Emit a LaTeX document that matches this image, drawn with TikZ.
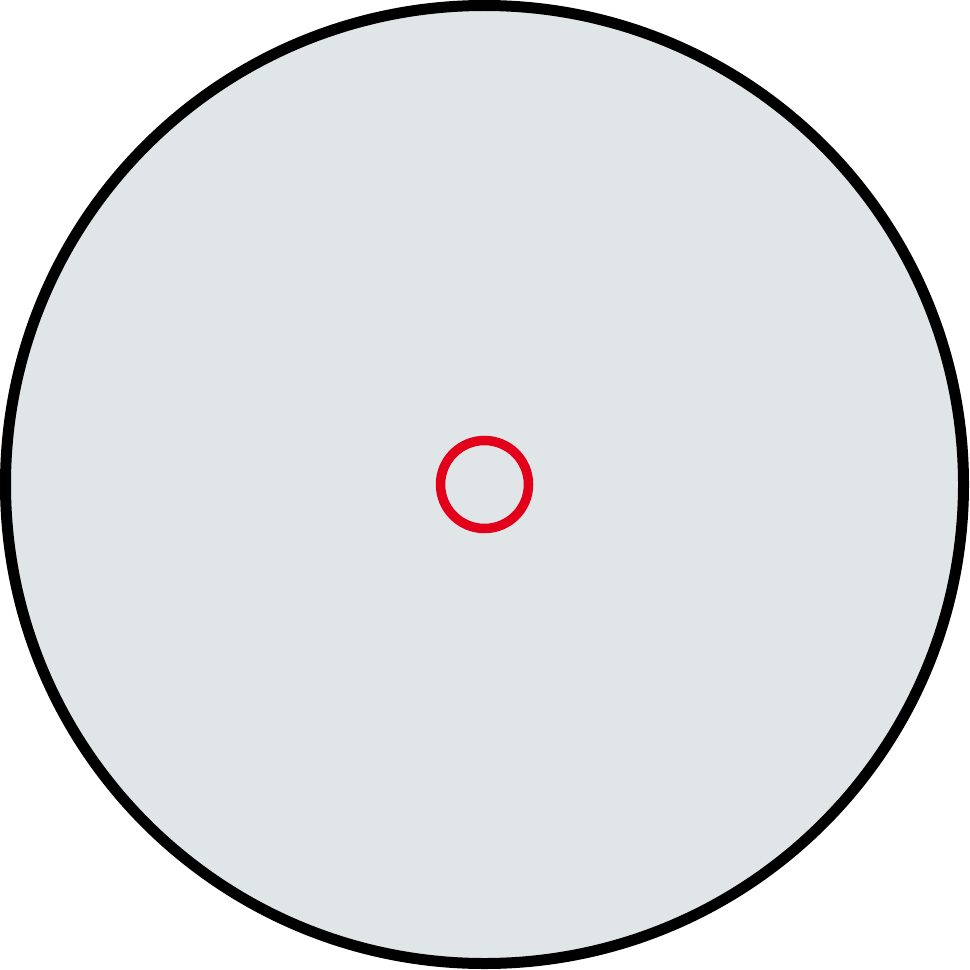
\documentclass[tikz,border=0pt]{standalone}
\usepackage{tikz}
\usetikzlibrary{positioning}
\definecolor{discgray}{RGB}{224,230,232}
\definecolor{markred}{RGB}{226,0,26}
\tikzset{
    disc/.style={circle, draw=black, fill=discgray, line width=0.11cm, minimum size=9.58cm, inner sep=0pt},
    target/.style={circle, draw=markred, line width=0.095cm, minimum size=0.88cm, inner sep=0pt}
}
\begin{document}
\begin{tikzpicture}
        \useasboundingbox (0,0) rectangle (9.70,9.69);
        %disco
        \node[disc] (disco) at (4.845,4.845) {};
        %centro
        \node[target] (centro) at (disco.center) {};
    \end{tikzpicture}
\end{document}
